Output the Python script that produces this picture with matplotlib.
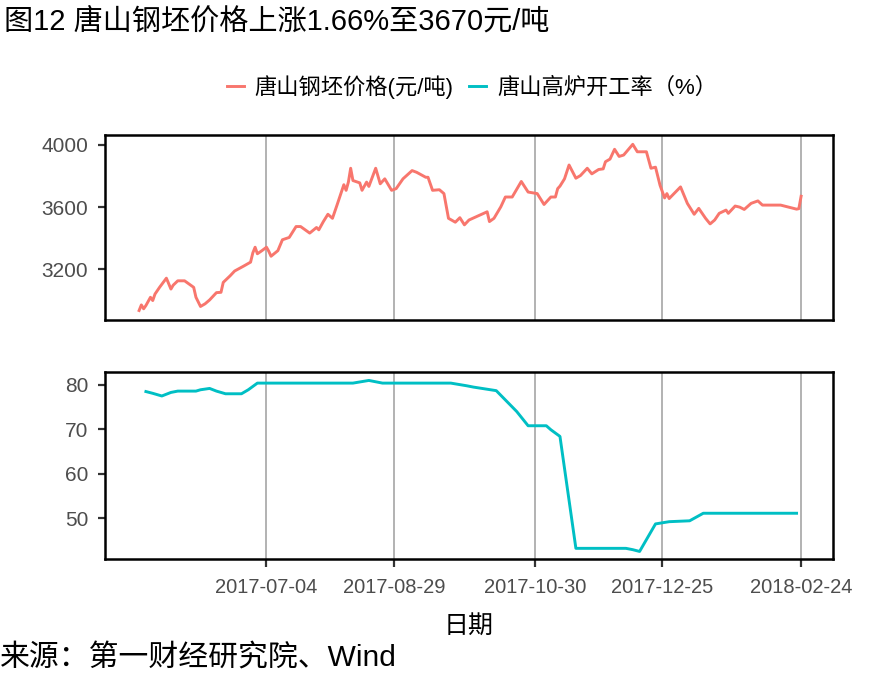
import matplotlib
matplotlib.use('Agg')
import matplotlib.pyplot as plt
import pandas as pd

# 唐山钢坯价格 (元/吨)
price_dates = ['2017-05-09', '2017-05-10', '2017-05-11', '2017-05-12', '2017-05-14', '2017-05-15',
               '2017-05-16', '2017-05-18', '2017-05-21', '2017-05-23', '2017-05-24', '2017-05-26',
               '2017-05-29', '2017-06-02', '2017-06-03', '2017-06-05', '2017-06-07', '2017-06-09',
               '2017-06-12', '2017-06-14', '2017-06-15', '2017-06-18', '2017-06-20', '2017-06-24',
               '2017-06-27', '2017-06-28', '2017-06-29', '2017-06-30', '2017-07-02', '2017-07-04',
               '2017-07-05', '2017-07-06', '2017-07-09', '2017-07-11', '2017-07-14', '2017-07-17',
               '2017-07-19', '2017-07-23', '2017-07-26', '2017-07-27', '2017-07-29', '2017-07-31',
               '2017-08-02', '2017-08-04', '2017-08-07', '2017-08-08', '2017-08-09', '2017-08-10',
               '2017-08-11', '2017-08-14', '2017-08-15', '2017-08-17', '2017-08-18', '2017-08-21',
               '2017-08-23', '2017-08-25', '2017-08-28', '2017-08-30', '2017-09-02', '2017-09-06',
               '2017-09-08', '2017-09-12', '2017-09-13', '2017-09-15', '2017-09-18', '2017-09-20',
               '2017-09-22', '2017-09-25', '2017-09-27', '2017-09-29', '2017-10-01', '2017-10-09',
               '2017-10-10', '2017-10-12', '2017-10-15', '2017-10-17', '2017-10-20', '2017-10-24',
               '2017-10-27', '2017-10-31', '2017-11-03', '2017-11-06', '2017-11-08', '2017-11-09',
               '2017-11-10', '2017-11-12', '2017-11-14', '2017-11-17', '2017-11-19', '2017-11-22',
               '2017-11-24', '2017-11-27', '2017-11-29', '2017-11-30', '2017-12-02', '2017-12-04',
               '2017-12-06', '2017-12-08', '2017-12-12', '2017-12-14', '2017-12-18', '2017-12-20',
               '2017-12-22', '2017-12-24', '2017-12-26', '2017-12-27', '2017-12-28', '2018-01-02',
               '2018-01-05', '2018-01-08', '2018-01-10', '2018-01-13', '2018-01-15', '2018-01-17',
               '2018-01-19', '2018-01-22', '2018-01-23', '2018-01-26', '2018-01-28', '2018-01-30',
               '2018-02-02', '2018-02-05', '2018-02-07', '2018-02-15', '2018-02-19', '2018-02-22',
               '2018-02-23', '2018-02-24']
price_values = [2935, 2971, 2946, 2967, 3020, 2999,
                3041, 3084, 3143, 3073, 3098, 3126,
                3126, 3084, 3020, 2961, 2978, 3003,
                3050, 3052, 3116, 3158, 3189, 3221,
                3246, 3306, 3342, 3300, 3320, 3342,
                3316, 3284, 3320, 3390, 3405, 3475,
                3475, 3433, 3469, 3454, 3507, 3554,
                3528, 3613, 3744, 3708, 3761, 3850,
                3771, 3756, 3708, 3761, 3733, 3850,
                3750, 3782, 3708, 3719, 3782, 3835,
                3824, 3792, 3792, 3708, 3712, 3687,
                3528, 3503, 3532, 3486, 3517, 3570,
                3507, 3528, 3602, 3665, 3665, 3765,
                3697, 3687, 3617, 3665, 3665, 3719,
                3735, 3782, 3871, 3786, 3803, 3850,
                3814, 3842, 3846, 3892, 3909, 3972,
                3926, 3935, 4004, 3956, 3956, 3850,
                3857, 3740, 3659, 3687, 3655, 3730,
                3624, 3554, 3592, 3528, 3492, 3517,
                3560, 3581, 3560, 3607, 3600, 3585,
                3624, 3640, 3613, 3613, 3598, 3587,
                3590, 3670]

# 唐山高炉开工率 (%)
rate_dates = ['2017-05-12', '2017-05-15', '2017-05-19', '2017-05-23', '2017-05-26', '2017-06-03',
              '2017-06-05', '2017-06-09', '2017-06-12', '2017-06-16', '2017-06-23', '2017-06-26',
              '2017-06-30', '2017-08-11', '2017-08-18', '2017-08-24', '2017-09-23', '2017-09-30',
              '2017-10-03', '2017-10-13', '2017-10-22', '2017-10-27', '2017-11-04', '2017-11-06',
              '2017-11-10', '2017-11-17', '2017-12-09', '2017-12-12', '2017-12-15', '2017-12-22',
              '2017-12-28', '2018-01-06', '2018-01-12', '2018-02-22']
rate_values = [78.5, 78.1, 77.5, 78.3, 78.6, 78.6,
               78.9, 79.2, 78.6, 78.0, 78.0, 78.9,
               80.4, 80.4, 81.0, 80.4, 80.4, 79.8,
               79.5, 78.7, 74.0, 70.8, 70.8, 69.9,
               68.4, 43.2, 43.2, 42.9, 42.5, 48.7,
               49.2, 49.4, 51.1, 51.1]

tick_dates = ['2017-07-04', '2017-08-29', '2017-10-30', '2017-12-25', '2018-02-24']
price_ticks = [3200, 3600, 4000]
rate_ticks = [50, 60, 70, 80]

plt.rcParams['font.family'] = ['Liberation Sans', 'Noto Sans CJK SC']

fig = plt.figure(figsize=(8.85, 6.88), dpi=100)
ax1 = fig.add_axes([0.1186, 0.5349, 0.8226, 0.2689])
ax2 = fig.add_axes([0.1186, 0.1875, 0.8226, 0.2718])

l1, = ax1.plot(pd.to_datetime(price_dates), price_values, color='#F8766D', lw=2.1)
l2, = ax2.plot(pd.to_datetime(rate_dates), rate_values, color='#00BFC4', lw=2.1)

ticks = pd.to_datetime(tick_dates)
for ax in (ax1, ax2):
    ax.set_xlim(pd.Timestamp('2017-04-24'), pd.Timestamp('2018-03-10'))
    ax.set_xticks(ticks)
    ax.grid(axis='x', color='#ADADAD', lw=1.3)
    ax.set_axisbelow(True)
    for s in ax.spines.values():
        s.set_color('black')
        s.set_linewidth(1.8)
    ax.tick_params(axis='y', length=5, width=1.6, color='#333333',
                   labelcolor='#4D4D4D', labelsize=15, pad=7)
    ax.tick_params(axis='x', length=6, width=1.6, color='#333333',
                   labelcolor='#4D4D4D', labelsize=14.5, pad=8)

ax1.set_ylim(2874, 4064)
ax1.set_yticks(price_ticks)
ax1.tick_params(axis='x', length=0, labelbottom=False)

ax2.set_ylim(40.8, 82.9)
ax2.set_yticks(rate_ticks)
ax2.set_xticklabels(tick_dates)
ax2.set_xlabel('日期', fontsize=18, labelpad=12)

fig.legend([l1, l2], ['唐山钢坯价格(元/吨)', '唐山高炉开工率（%）'],
           loc='center', bbox_to_anchor=(472 / 885, 1 - 87 / 688), ncol=2,
           frameon=False, fontsize=16, handlelength=0.75, handletextpad=0.5,
           columnspacing=0.7)

fig.text(0.005, 1 - 22 / 688, '图12 唐山钢坯价格上涨1.66%至3670元/吨', fontsize=21,
         va='center', ha='left')
fig.text(0.0, 1 - 658 / 688, '来源：第一财经研究院、Wind', fontsize=21.5,
         va='center', ha='left')

fig.savefig('out.png', dpi=100)
